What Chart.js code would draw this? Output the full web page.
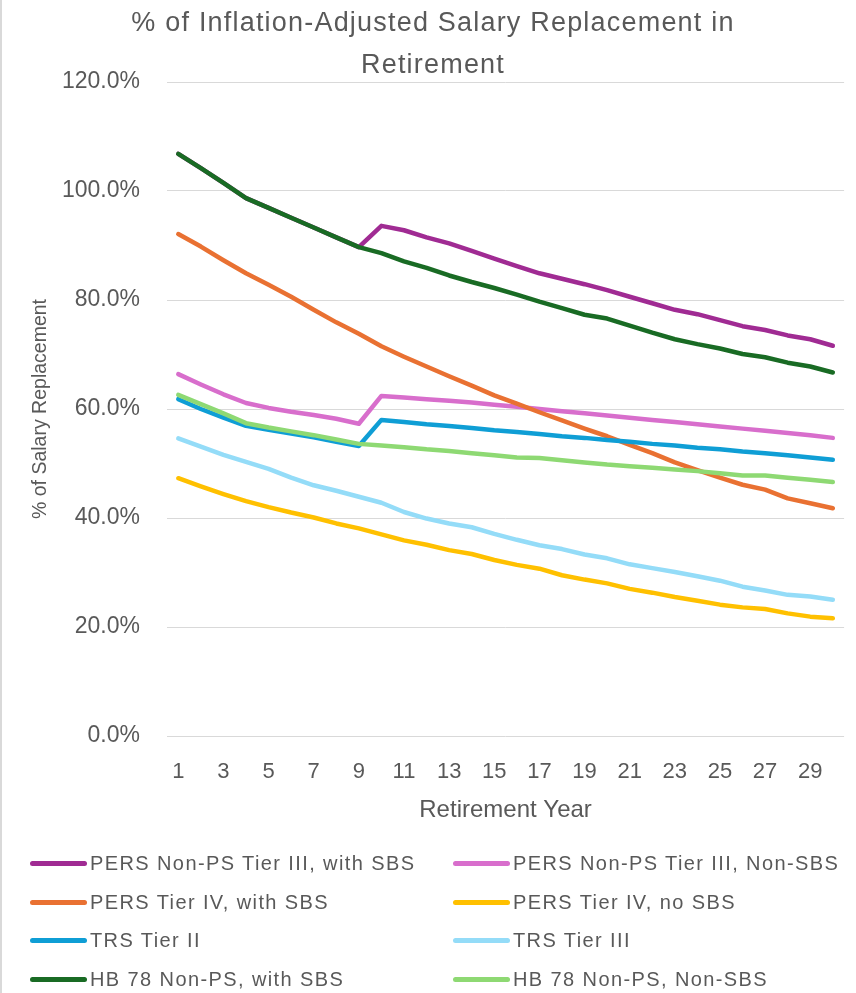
<!DOCTYPE html>
<html>
<head>
<meta charset="utf-8">
<title>% of Inflation-Adjusted Salary Replacement in Retirement</title>
<script src="https://cdn.jsdelivr.net/npm/chart.js@4.4.1/dist/chart.umd.min.js"></script>
<style>
  html, body { margin: 0; padding: 0; background: #ffffff; }
  #wrap { position: relative; width: 856px; height: 993px; overflow: hidden; background: #ffffff; }
  #wrap .frame { position: absolute; left: 0; top: 0; bottom: 0; width: 2px; background: #d9d9d9; }
  #chart { position: absolute; left: 0; top: 0; }
  #title {
    position: absolute; left: 433px; top: 1px; transform: translateX(-50%);
    font-family: 'Liberation Sans', Arial, sans-serif; font-size: 27px; letter-spacing: 1.2px;
    line-height: 42px; color: #595959; text-align: center; white-space: nowrap;
  }
  .lg-item {
    position: absolute; height: 26px; display: flex; align-items: center; white-space: nowrap;
    font-family: 'Liberation Sans', Arial, sans-serif; font-size: 20px; letter-spacing: 1.4px; color: #595959;
  }
  .lg-line { display: inline-block; width: 57px; height: 5px; border-radius: 3px; margin-right: 3px; }
</style>
</head>
<body>
<div id="wrap">
  <div class="frame"></div>
  <canvas id="chart" width="856" height="993"></canvas>
  <div id="title">% of Inflation-Adjusted Salary Replacement in<br>Retirement</div>
  <div id="legend"></div>
</div>
<script>
// Retirement years on the category axis
const years = ['1','2','3','4','5','6','7','8','9','10','11','12','13','14','15',
               '16','17','18','19','20','21','22','23','24','25','26','27','28','29','30'];

// Percent of inflation-adjusted salary replaced, by retirement year
const persT3WithSbs = [106.8, 104.2, 101.5, 98.7, 96.9, 95.1, 93.3, 91.5, 89.7, 93.6,
                       92.8, 91.5, 90.4, 89.0, 87.6, 86.2, 84.9, 83.9, 82.9, 81.8,
                       80.6, 79.4, 78.2, 77.4, 76.3, 75.2, 74.5, 73.5, 72.8, 71.6];
const persT3NonSbs = [66.4, 64.5, 62.7, 61.1, 60.2, 59.5, 58.9, 58.2, 57.3, 62.4,
                      62.1, 61.8, 61.5, 61.2, 60.8, 60.4, 60.0, 59.6, 59.2, 58.8,
                      58.4, 58.0, 57.6, 57.2, 56.8, 56.4, 56.0, 55.6, 55.2, 54.7];
const persT4WithSbs = [92.1, 89.8, 87.3, 84.9, 82.8, 80.6, 78.2, 75.9, 73.8, 71.5,
                       69.6, 67.8, 66.0, 64.3, 62.5, 61.0, 59.4, 57.9, 56.4, 55.0,
                       53.4, 51.9, 50.2, 48.8, 47.4, 46.1, 45.2, 43.6, 42.7, 41.8];
const persT4NoSbs = [47.3, 45.8, 44.4, 43.1, 42.0, 41.0, 40.1, 39.0, 38.1, 37.0,
                     35.9, 35.1, 34.1, 33.4, 32.3, 31.4, 30.7, 29.5, 28.7, 28.0,
                     27.0, 26.3, 25.5, 24.8, 24.1, 23.6, 23.3, 22.5, 21.9, 21.6];
const trsTier2 = [61.8, 60.0, 58.4, 56.9, 56.2, 55.5, 54.8, 54.0, 53.2, 58.0,
                  57.6, 57.2, 56.9, 56.5, 56.1, 55.8, 55.4, 55.0, 54.7, 54.3,
                  54.0, 53.6, 53.3, 52.9, 52.6, 52.2, 51.9, 51.5, 51.1, 50.7];
const trsTier3 = [54.6, 53.1, 51.6, 50.3, 49.0, 47.4, 46.0, 45.0, 43.9, 42.8,
                  41.1, 39.9, 39.0, 38.3, 37.1, 36.0, 35.0, 34.3, 33.3, 32.6,
                  31.5, 30.8, 30.1, 29.3, 28.5, 27.4, 26.7, 25.9, 25.6, 25.0];
const hb78WithSbs = [106.8, 104.2, 101.5, 98.7, 96.9, 95.1, 93.3, 91.5, 89.7, 88.6,
                     87.1, 85.9, 84.5, 83.3, 82.2, 81.0, 79.7, 78.5, 77.3, 76.6,
                     75.3, 74.0, 72.8, 71.9, 71.1, 70.1, 69.5, 68.5, 67.8, 66.7];
const hb78NonSbs = [62.6, 60.9, 59.2, 57.4, 56.6, 55.9, 55.2, 54.4, 53.6, 53.3,
                    53.0, 52.6, 52.3, 51.9, 51.5, 51.1, 51.0, 50.6, 50.2, 49.8,
                    49.5, 49.2, 48.9, 48.6, 48.2, 47.8, 47.8, 47.4, 47.0, 46.6];

const seriesNames = ['PERS Non-PS Tier III, with SBS', 'PERS Non-PS Tier III, Non-SBS',
                     'PERS Tier IV, with SBS', 'PERS Tier IV, no SBS',
                     'TRS Tier II', 'TRS Tier III',
                     'HB 78 Non-PS, with SBS', 'HB 78 Non-PS, Non-SBS'];
const seriesValues = [persT3WithSbs, persT3NonSbs, persT4WithSbs, persT4NoSbs,
                      trsTier2, trsTier3, hb78WithSbs, hb78NonSbs];
const seriesColors = ['#A02B93', '#D86ECC', '#E97132', '#FFC000',
                      '#0F9ED5', '#94DCF8', '#196B24', '#8ED973'];

const FONT = "'Liberation Sans', Arial, sans-serif";
const TEXT = '#595959';

// later series are painted on top of earlier ones
const datasets = seriesNames.map((name, i) => ({
  label: name,
  data: seriesValues[i],
  borderColor: seriesColors[i],
  backgroundColor: seriesColors[i],
  order: seriesNames.length - i
}));

const chart = new Chart(document.getElementById('chart').getContext('2d'), {
  type: 'line',
  data: { labels: years, datasets },
  options: {
    responsive: false,
    animation: false,
    events: [],
    layout: { padding: { top: 82, left: 0, right: 11, bottom: 168 } },
    elements: {
      point: { radius: 0, hoverRadius: 0 },
      line: { tension: 0, borderWidth: 4.5, borderCapStyle: 'round', borderJoinStyle: 'round', fill: false }
    },
    plugins: {
      legend: { display: false },
      title: { display: false },
      tooltip: { enabled: false }
    },
    scales: {
      x: {
        offset: true,
        grid: { display: false, drawTicks: false },
        border: { display: false },
        ticks: {
          autoSkip: false, maxRotation: 0, minRotation: 0, padding: 23,
          color: TEXT, font: { family: FONT, size: 22 },
          callback: (v, i) => (i % 2 === 0 ? years[i] : '')
        },
        title: {
          display: true, text: 'Retirement Year', color: TEXT,
          font: { family: FONT, size: 24 }, padding: { top: 0, bottom: 0 }
        },
        afterFit: (s) => { s.height = 89; }
      },
      y: {
        min: 0, max: 120,
        grid: { color: '#d9d9d9', lineWidth: 1, drawTicks: false },
        border: { display: false },
        ticks: {
          stepSize: 20, padding: 27, color: TEXT, font: { family: FONT, size: 23 },
          callback: (v) => v.toFixed(1) + '%'
        },
        title: {
          display: true, text: '% of Salary Replacement', color: TEXT,
          font: { family: FONT, size: 19.5 }, padding: { top: 29, bottom: 0 }
        },
        afterFit: (s) => { s.width = 167; }
      }
    }
  }
});

// two-column legend built from the chart's datasets
const legendEl = document.getElementById('legend');
const rowCenters = [863, 902, 940, 979];
const colLeft = [30, 453];
chart.data.datasets.forEach((ds, i) => {
  const item = document.createElement('div');
  item.className = 'lg-item';
  item.style.left = colLeft[i % 2] + 'px';
  item.style.top = (rowCenters[Math.floor(i / 2)] - 13) + 'px';
  const line = document.createElement('span');
  line.className = 'lg-line';
  line.style.background = ds.borderColor;
  const txt = document.createElement('span');
  txt.textContent = ds.label;
  item.appendChild(line);
  item.appendChild(txt);
  legendEl.appendChild(item);
});
</script>
</body>
</html>
